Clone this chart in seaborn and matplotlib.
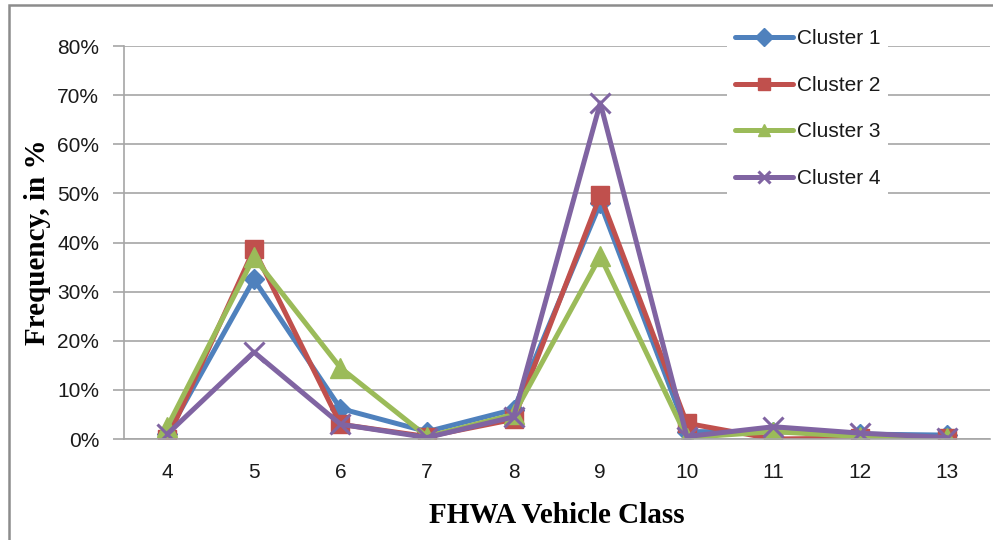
import numpy as np
import pandas as pd
import seaborn as sns
import matplotlib.pyplot as plt
from matplotlib.patches import Rectangle

# ------------------------
# Data (in %)
# ------------------------
vehicle_class = [4, 5, 6, 7, 8, 9, 10, 11, 12, 13]
cluster_1 = [1.0, 32.5, 6.2, 1.5, 6.0, 48.0, 1.5, 1.5, 1.0, 0.8]
cluster_2 = [0.0, 38.6, 3.0, 0.5, 4.0, 49.6, 3.2, 0.0, 0.2, 0.3]
cluster_3 = [2.5, 37.0, 14.5, 0.5, 5.0, 37.2, 0.3, 1.5, 0.5, 0.2]
cluster_4 = [1.0, 17.7, 3.0, 0.3, 4.5, 68.4, 0.5, 2.5, 1.2, 0.3]
cluster_names = ['Cluster 1', 'Cluster 2', 'Cluster 3', 'Cluster 4']
y_ticks = [0, 10, 20, 30, 40, 50, 60, 70, 80]

df = pd.DataFrame({
    'Class': vehicle_class * 4,
    'Frequency': cluster_1 + cluster_2 + cluster_3 + cluster_4,
    'Cluster': [n for n in cluster_names for _ in vehicle_class],
})

# ------------------------
# Styling
# ------------------------
sns.set_style('white')
plt.rcParams['font.family'] = ['Liberation Sans', 'DejaVu Sans']
plt.rcParams['text.color'] = '#1A1A1A'
plt.rcParams['xtick.color'] = '#1A1A1A'
plt.rcParams['ytick.color'] = '#1A1A1A'

colors = ['#4F81BD', '#C0504D', '#9BBB59', '#8064A2']
markers = ['D', 's', '^', 'x']
msizes = [10, 13, 14, 14]
mews = [1, 1, 1, 2.2]

fig = plt.figure(figsize=(9.93, 5.4), dpi=100)
ax = fig.add_axes([0.1249, 0.187, 0.872, 0.7278])

for name, c, m, ms, mew in zip(cluster_names, colors, markers, msizes, mews):
    sub = df[df['Cluster'] == name]
    sns.lineplot(x='Class', y='Frequency', data=sub, ax=ax, color=c,
                 marker=m, markersize=ms, markeredgecolor=c, markeredgewidth=mew,
                 linewidth=3.6, label=name)

ax.set_xlim(3.5, 13.5)
ax.set_ylim(0, 80)
ax.set_xticks(vehicle_class)
ax.set_xticklabels([str(v) for v in vehicle_class])
ax.set_yticks(y_ticks)
ax.set_yticklabels([f'{v}%' for v in y_ticks])
ax.yaxis.grid(True, color='#A6A6A6', linewidth=1.2)
ax.set_axisbelow(True)

for s in ['top', 'right']:
    ax.spines[s].set_visible(False)
for s in ['left', 'bottom']:
    ax.spines[s].set_color('#A6A6A6')
    ax.spines[s].set_linewidth(1.2)

ax.tick_params(axis='y', length=8, width=1.2, color='#A6A6A6', labelsize=15,
               pad=10, left=True, labelcolor='#1A1A1A')
ax.tick_params(axis='x', length=0, labelsize=15, pad=17, labelcolor='#1A1A1A')

ax.set_xlabel('FHWA Vehicle Class', family=['Liberation Serif'],
              fontweight='bold', fontsize=21, labelpad=15, color='black')
ax.set_ylabel('Frequency, in %', family=['Liberation Serif'],
              fontweight='bold', fontsize=21, labelpad=4, color='black')

leg = ax.legend(loc='upper left', bbox_to_anchor=(0.684, 1.09), fontsize=15,
                frameon=True, facecolor='white', edgecolor='none', framealpha=1,
                labelspacing=1.32, handlelength=2.8, handletextpad=0.15,
                borderpad=0.4, fancybox=False)
for h in leg.legend_handles:
    h.set_markersize(9)

# outer chart border
fig.patches.append(Rectangle((9 / 993, -0.1), 1.2, 1 - 5 / 540 + 0.1,
                             transform=fig.transFigure, fill=False,
                             edgecolor='#8C8C8C', linewidth=1.8))

fig.savefig('out.png', dpi=100)
